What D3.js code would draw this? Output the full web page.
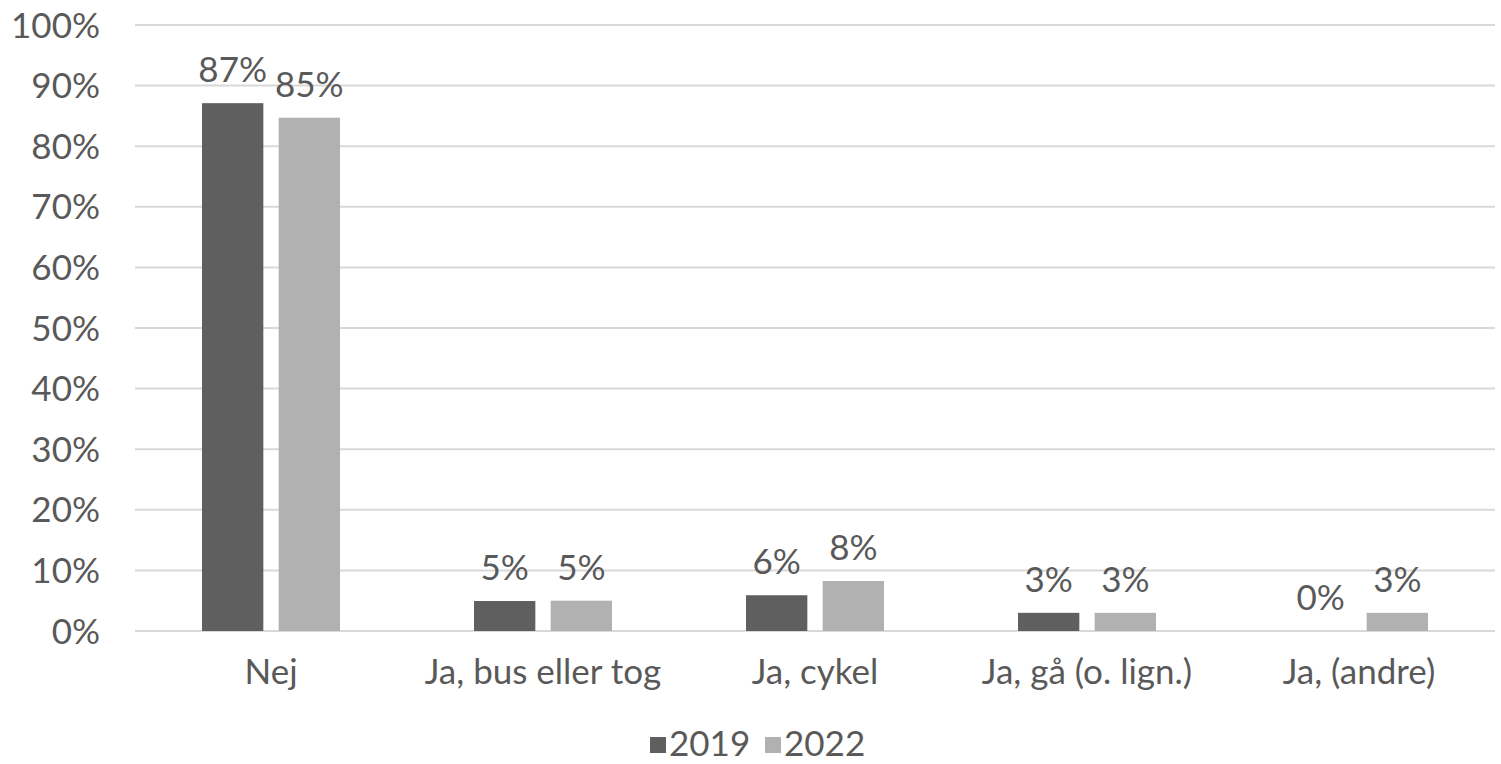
<!DOCTYPE html>
<html>
<head>
<meta charset="utf-8">
<script src="https://cdn.jsdelivr.net/npm/d3@7"></script>
<style>
  body { margin: 0; background: #fff; }
  text { font-family: Lato, "Open Sans", sans-serif; fill: #595959; }
</style>
</head>
<body>
<div id="chart"></div>
<script>
// data
var categories = ["Nej", "Ja, bus eller tog", "Ja, cykel", "Ja, gå (o. lign.)", "Ja, (andre)"];
var seriesNames = ["2019", "2022"];
var values2019 = [87, 5, 6, 3, 0];
var values2022 = [85, 5, 8, 3, 3];
var yTicks = [0, 10, 20, 30, 40, 50, 60, 70, 80, 90, 100];
// bar heights (slightly more precise than the rounded labels)
var heights2019 = [87.1, 4.95, 5.9, 3.0, 0];
var heights2022 = [84.7, 5.0, 8.25, 3.0, 3.0];
var colors = ["#5f5f5f", "#b1b1b1"];

var w = 1501, h = 764;
var mLeft = 135, mRight = 1495, mTop = 25, mBottom = 631;
var fs = 35;

var svg = d3.select("#chart").append("svg")
    .attr("width", w)
    .attr("height", h);

var x0 = d3.scaleBand()
    .domain(categories)
    .range([mLeft, mRight]);

var x1 = d3.scaleBand()
    .domain(seriesNames)
    .range([67, 205])
    .paddingInner(0.2);

var y = d3.scaleLinear()
    .domain([0, 100])
    .range([mBottom, mTop]);

//gridlines
svg.append("g")
    .selectAll("line")
    .data(yTicks)
    .enter().append("line")
    .attr("x1", mLeft)
    .attr("x2", mRight)
    .attr("y1", function (d) { return y(d); })
    .attr("y2", function (d) { return y(d); })
    .attr("stroke", "#d9d9d9")
    .attr("stroke-width", 2);

//y axis labels
svg.append("g")
    .selectAll("text")
    .data(yTicks)
    .enter().append("text")
    .attr("x", 100)
    .attr("y", function (d) { return y(d); })
    .attr("dy", "0.36em")
    .attr("text-anchor", "end")
    .style("font-size", fs + "px")
    .text(function (d) { return d + "%"; });

//rows for bars
var rows = [];
categories.forEach(function (c, i) {
    rows.push({ cat: c, s: "2019", h: heights2019[i], v: values2019[i], col: colors[0] });
    rows.push({ cat: c, s: "2022", h: heights2022[i], v: values2022[i], col: colors[1] });
});

var bars = svg.append("g");
bars.selectAll("rect")
    .data(rows)
    .enter().append("rect")
    .attr("x", function (d) { return x0(d.cat) + x1(d.s); })
    .attr("width", x1.bandwidth())
    .attr("y", function (d) { return y(d.h); })
    .attr("height", function (d) { return y(0) - y(d.h); })
    .attr("fill", function (d) { return d.col; });

//value labels
bars.selectAll("text")
    .data(rows)
    .enter().append("text")
    .attr("x", function (d) { return x0(d.cat) + x1(d.s) + x1.bandwidth() / 2; })
    .attr("y", function (d) { return y(d.h) - 21; })
    .attr("text-anchor", "middle")
    .style("font-size", fs + "px")
    .text(function (d) { return d.v + "%"; });

//category labels
svg.append("g")
    .selectAll("text")
    .data(categories)
    .enter().append("text")
    .attr("x", function (d) { return x0(d) + x0.bandwidth() / 2; })
    .attr("y", 684)
    .attr("text-anchor", "middle")
    .style("font-size", fs + "px")
    .text(function (d) { return d; });

//legend
var legend = svg.append("g");
var lx = [650, 765];
seriesNames.forEach(function (s, i) {
    legend.append("rect")
        .attr("x", lx[i])
        .attr("y", 737)
        .attr("width", 16)
        .attr("height", 16)
        .attr("fill", colors[i]);
    legend.append("text")
        .attr("x", lx[i] + 19)
        .attr("y", 756)
        .style("font-size", fs + "px")
        .text(s);
});
</script>
</body>
</html>
